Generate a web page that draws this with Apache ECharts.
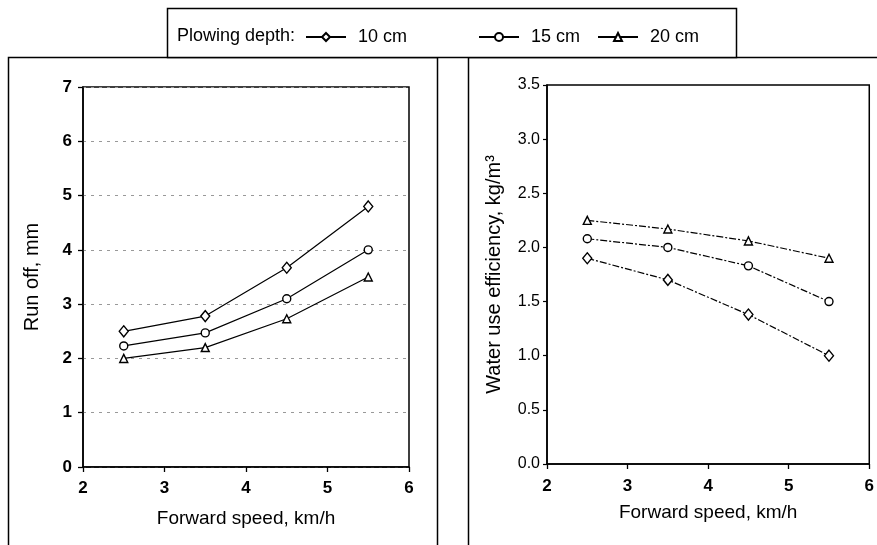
<!DOCTYPE html>
<html>
<head>
<meta charset="utf-8">
<script src="https://cdn.jsdelivr.net/npm/echarts@6/dist/echarts.min.js"></script>
<style>
html,body{margin:0;padding:0;background:#fff;}
#main{width:877px;height:545px;}
</style>
</head>
<body>
<div id="main"></div>
<script>
var speed = [2.5, 3.5, 4.5, 5.5];
var depthNames = ['10 cm', '15 cm', '20 cm'];
// run off, mm
var runoff10 = [2.5, 2.78, 3.67, 4.8];
var runoff15 = [2.23, 2.47, 3.1, 4.0];
var runoff20 = [2.0, 2.2, 2.73, 3.5];
// water use efficiency, kg/m3
var wue10 = [1.9, 1.7, 1.38, 1.0];
var wue15 = [2.08, 2.0, 1.83, 1.5];
var wue20 = [2.25, 2.17, 2.06, 1.9];

var font = 'Liberation Sans';
var symbols = ['diamond', 'circle', 'triangle'];
var symSizes = [[9, 11], 8, 8];
var legendLeft = [300, 473, 592];

function pairs(ys){
  var out = [];
  for (var i = 0; i < speed.length; i++) out.push([speed[i], ys[i]]);
  return out;
}

function mkSeries(idx, ys, gi, dashed){
  return {
    name: depthNames[idx],
    type: 'line',
    xAxisIndex: gi, yAxisIndex: gi,
    data: pairs(ys),
    symbol: symbols[idx],
    symbolSize: symSizes[idx],
    showSymbol: true,
    itemStyle: {color: '#fff', borderColor: '#000', borderWidth: 1.4},
    lineStyle: {color: '#000', width: 1.2, type: dashed ? [7, 2, 2, 2] : 'solid'},
    emphasis: {disabled: true},
    animation: false,
    z: 3
  };
}

function xAx(gi, gap, margin){
  return {
    type: 'value', gridIndex: gi, min: 2, max: 6, interval: 1,
    name: 'Forward speed, km/h', nameLocation: 'middle', nameGap: gap,
    nameTextStyle: {fontFamily: font, fontSize: 19, color: '#000'},
    axisLine: {show: true, lineStyle: {color: '#000', width: 1.5}},
    axisTick: {show: true, length: 5, lineStyle: {color: '#000', width: 1.3}},
    axisLabel: {fontFamily: font, fontSize: 17, fontWeight: 'bold', color: '#000', margin: margin},
    splitLine: {show: false}
  };
}

var legends = [];
for (var i = 0; i < depthNames.length; i++) {
  legends.push({
    data: [depthNames[i]],
    left: legendLeft[i], top: 23,
    itemWidth: 40, itemHeight: 10,
    textStyle: {fontFamily: font, fontSize: 18, color: '#000', padding: [0, 0, 0, 7]}
  });
}

var chart = echarts.init(document.getElementById('main'), null, {renderer: 'canvas'});
var option = {
  backgroundColor: '#fff',
  animation: false,
  grid: [
    {left: 83, top: 87, width: 326, height: 380, show: true, borderColor: '#000', borderWidth: 1.5, backgroundColor: 'transparent'},
    {left: 547, top: 85, width: 325, height: 379, show: true, borderColor: '#000', borderWidth: 1.5, backgroundColor: 'transparent'}
  ],
  legend: legends,
  xAxis: [xAx(0, 42, 13), xAx(1, 39, 14)],
  yAxis: [
    {
      type: 'value', gridIndex: 0, min: 0, max: 7, interval: 1,
      name: 'Run off, mm', nameLocation: 'middle', nameGap: 41,
      nameTextStyle: {fontFamily: font, fontSize: 20, color: '#000'},
      axisLine: {show: true, lineStyle: {color: '#000', width: 1.5}},
      axisTick: {show: true, length: 5, lineStyle: {color: '#000', width: 1.3}},
      axisLabel: {fontFamily: font, fontSize: 17, fontWeight: 'bold', color: '#000', margin: 11},
      splitLine: {show: true, lineStyle: {color: '#999', width: 1, type: [3, 5]}}
    },
    {
      type: 'value', gridIndex: 1, min: 0, max: 3.5, interval: 0.5,
      name: 'Water use efficiency, kg/m³', nameLocation: 'middle', nameGap: 43,
      nameTextStyle: {fontFamily: font, fontSize: 20, color: '#000'},
      axisLine: {show: true, lineStyle: {color: '#000', width: 1.5}},
      axisTick: {show: true, length: 4, lineStyle: {color: '#000', width: 1.2}},
      axisLabel: {fontFamily: font, fontSize: 16, color: '#000', margin: 7,
        formatter: function(v){ return v.toFixed(1); }},
      splitLine: {show: false}
    }
  ],
  graphic: [
    {type: 'rect', shape: {x: 8.5, y: 57.5, width: 429, height: 520}, style: {fill: 'none', stroke: '#000', lineWidth: 1.5}, z: 0, silent: true},
    {type: 'rect', shape: {x: 468.5, y: 57.5, width: 430, height: 520}, style: {fill: 'none', stroke: '#000', lineWidth: 1.5}, z: 0, silent: true},
    {type: 'rect', shape: {x: 167.5, y: 8.5, width: 569, height: 49}, style: {fill: '#fff', stroke: '#000', lineWidth: 1.5}, z: 1, silent: true},
    {type: 'text', left: 177, top: 27, style: {text: 'Plowing depth:', fontFamily: font, fontSize: 18, fill: '#000'}, z: 2, silent: true}
  ],
  series: [
    mkSeries(0, runoff10, 0, false),
    mkSeries(1, runoff15, 0, false),
    mkSeries(2, runoff20, 0, false),
    mkSeries(0, wue10, 1, true),
    mkSeries(1, wue15, 1, true),
    mkSeries(2, wue20, 1, true)
  ]
};
chart.setOption(option);
</script>
</body>
</html>
